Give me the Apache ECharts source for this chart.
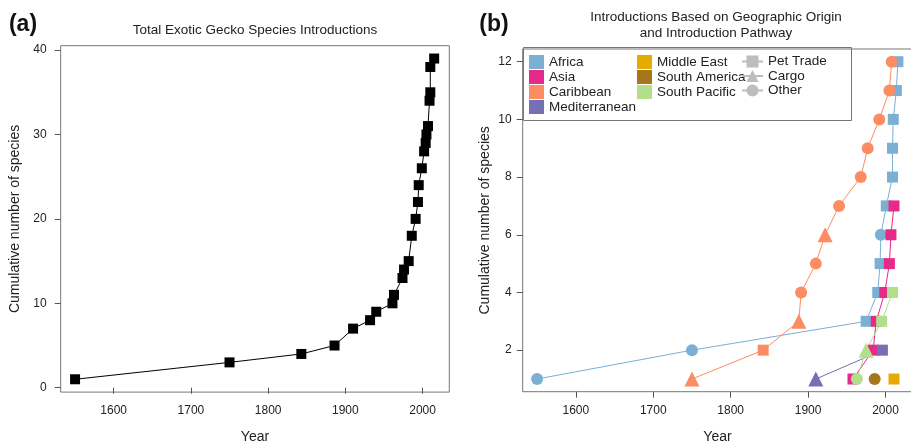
<!DOCTYPE html>
<html>
<head>
<meta charset="utf-8">
<script src="https://cdn.jsdelivr.net/npm/echarts@6/dist/echarts.min.js"></script>
<style>
  html, body { margin: 0; padding: 0; background: #fff; }
  #chart { width: 911px; height: 444px; }
</style>
</head>
<body>
<div id="chart"></div>
<script>
// panel (a): cumulative total
const totalYears  = [1550, 1750, 1843, 1886, 1910, 1932, 1940, 1961, 1963, 1974, 1976, 1982, 1986, 1991, 1994, 1995, 1999, 2002, 2004, 2005, 2007, 2009, 2010, 2010, 2015];
const totalCounts = [1, 3, 4, 5, 7, 8, 9, 10, 11, 13, 14, 15, 18, 20, 22, 24, 26, 28, 29, 30, 31, 34, 35, 38, 39];

// panel (b): per origin, pathway P = pet trade, C = cargo, O = other
const africaYears  = [1550, 1750, 1975, 1990, 1993, 1994, 2001, 2009, 2009, 2010, 2014, 2016];
const africaCounts = [1, 2, 3, 4, 5, 6, 7, 8, 9, 10, 11, 12];
const africaPath   = ['O', 'O', 'P', 'P', 'P', 'O', 'P', 'P', 'P', 'P', 'P', 'P'];

const asiaYears  = [1958, 1984, 1988, 1999, 2005, 2007, 2011];
const asiaCounts = [1, 2, 3, 4, 5, 6, 7];
const asiaPath   = ['P', 'P', 'P', 'P', 'P', 'P', 'P'];

const caribYears  = [1750, 1842, 1888, 1891, 1910, 1922, 1940, 1968, 1977, 1992, 2005, 2008];
const caribCounts = [1, 2, 3, 4, 5, 6, 7, 8, 9, 10, 11, 12];
const caribPath   = ['C', 'P', 'C', 'O', 'O', 'C', 'O', 'O', 'O', 'O', 'O', 'O'];

const medYears  = [1910, 1996];
const medCounts = [1, 2];
const medPath   = ['C', 'P'];

const meYears  = [2011];
const meCounts = [1];
const mePath   = ['P'];

const saYears  = [1986];
const saCounts = [1];
const saPath   = ['O'];

const spYears  = [1963, 1975, 1995, 2009];
const spCounts = [1, 2, 3, 4];
const spPath   = ['O', 'C', 'P', 'P'];

const yearTicks = [1600, 1700, 1800, 1900, 2000];
const totalTicks = [0, 10, 20, 30, 40];
const originTicks = [2, 4, 6, 8, 10, 12];

const FONT = 'Liberation Sans, Arial, Helvetica, sans-serif';

const symbolOf = { P: 'rect', C: 'triangle', O: 'circle' };
const sizeOf = { P: 11, C: 15, O: 12 };

function originData(years, counts, path) {
  return years.map((y, i) => ({
    value: [y, counts[i]],
    symbol: symbolOf[path[i]],
    symbolSize: sizeOf[path[i]]
  }));
}

function originSeries(name, color, years, counts, path) {
  return {
    name: name,
    type: 'line',
    xAxisIndex: 1,
    yAxisIndex: 1,
    data: originData(years, counts, path),
    color: color,
    lineStyle: { width: 1, color: color },
    itemStyle: { color: color },
    emphasis: { disabled: true }
  };
}

function pathSeries(name, symbol) {
  return {
    name: name,
    type: 'line',
    xAxisIndex: 1,
    yAxisIndex: 1,
    data: [],
    symbol: symbol,
    symbolSize: 12,
    color: '#bdbdbd',
    lineStyle: { width: 1, color: '#bdbdbd' },
    itemStyle: { color: '#bdbdbd' }
  };
}

function xAxisCfg(idx) {
  return {
    type: 'value', gridIndex: idx, min: 1531.4, max: 2034.6,
    name: 'Year', nameLocation: 'middle', nameGap: 38,
    nameTextStyle: { fontFamily: FONT, fontSize: 14, color: '#222' },
    splitLine: { show: false },
    axisLine: { show: false },
    axisTick: { show: true, length: 6, lineStyle: { color: '#555' }, customValues: yearTicks },
    axisLabel: { margin: 13, fontFamily: FONT, fontSize: 12, color: '#222', customValues: yearTicks,
      formatter: v => String(v) }
  };
}

function yAxisCfg(idx, min, max, ticks, gap, margin) {
  return {
    type: 'value', gridIndex: idx, min: min, max: max,
    name: 'Cumulative number of species', nameLocation: 'middle', nameGap: gap,
    nameTextStyle: { fontFamily: FONT, fontSize: 14, color: '#222' },
    splitLine: { show: false },
    axisLine: { show: false },
    axisTick: { show: true, length: 6, lineStyle: { color: '#555' }, customValues: ticks },
    axisLabel: { margin: margin, fontFamily: FONT, fontSize: 12, color: '#222', customValues: ticks,
      formatter: v => String(v) }
  };
}

const legendText = { fontFamily: FONT, fontSize: 13.5, color: '#222' };

function pathLegend(name, top) {
  return {
    left: 741, top: top, padding: 0, itemWidth: 21, itemHeight: 15,
    itemStyle: { borderWidth: 0 },
    textStyle: legendText,
    data: [name],
    selectedMode: false
  };
}

const chart = echarts.init(document.getElementById('chart'), null, { renderer: 'canvas' });

chart.setOption({
  animation: false,
  backgroundColor: '#fff',
  grid: [
    { left: 60.7, top: 45.7, width: 388.6, height: 346.4, show: true, borderColor: '#777', borderWidth: 1,
      outerBoundsMode: 'none', containLabel: false },
    { left: 522.7, top: 49, width: 389.6, height: 342.7, show: true, borderColor: '#777', borderWidth: 1,
      outerBoundsMode: 'none', containLabel: false }
  ],
  xAxis: [xAxisCfg(0), xAxisCfg(1)],
  yAxis: [
    yAxisCfg(0, -0.52, 40.52, totalTicks, 39, 14),
    yAxisCfg(1, 0.56, 12.44, originTicks, 31, 11)
  ],
  legend: [
    {
      left: 529, top: 55, padding: 0, orient: 'vertical', itemGap: 1, itemWidth: 15, itemHeight: 14,
      textStyle: legendText,
      data: [
        { name: 'Africa', icon: 'rect' }, { name: 'Asia', icon: 'rect' },
        { name: 'Caribbean', icon: 'rect' }, { name: 'Mediterranean', icon: 'rect' }
      ],
      selectedMode: false
    },
    {
      left: 637, top: 55, padding: 0, orient: 'vertical', itemGap: 1, itemWidth: 15, itemHeight: 14,
      textStyle: legendText,
      data: [
        { name: 'Middle East', icon: 'rect' }, { name: 'South America', icon: 'rect' },
        { name: 'South Pacific', icon: 'rect' }
      ],
      selectedMode: false
    },
    pathLegend('Pet Trade', 54.5),
    pathLegend('Cargo', 69),
    pathLegend('Other', 83.5)
  ],
  graphic: [
    { type: 'rect', shape: { x: 523.5, y: 47.5, width: 328, height: 73 },
      style: { fill: '#fff', stroke: '#777', lineWidth: 1 }, z: -1, silent: true },
    { type: 'text', x: 23, y: 25, style: { text: '(a)', font: 'bold 23px ' + FONT, fill: '#111', align: 'center', verticalAlign: 'middle' } },
    { type: 'text', x: 494, y: 25, style: { text: '(b)', font: 'bold 23px ' + FONT, fill: '#111', align: 'center', verticalAlign: 'middle' } },
    { type: 'text', x: 255, y: 30, style: { text: 'Total Exotic Gecko Species Introductions', font: '13.5px ' + FONT, fill: '#222', align: 'center', verticalAlign: 'middle' } },
    { type: 'text', x: 716, y: 17, style: { text: 'Introductions Based on Geographic Origin', font: '13.5px ' + FONT, fill: '#222', align: 'center', verticalAlign: 'middle' } },
    { type: 'text', x: 716, y: 33, style: { text: 'and Introduction Pathway', font: '13.5px ' + FONT, fill: '#222', align: 'center', verticalAlign: 'middle' } }
  ],
  series: [
    {
      name: 'Total',
      type: 'line',
      xAxisIndex: 0,
      yAxisIndex: 0,
      data: totalYears.map((y, i) => [y, totalCounts[i]]),
      symbol: 'rect',
      symbolSize: 10,
      lineStyle: { width: 1, color: '#000' },
      itemStyle: { color: '#000' }
    },
    originSeries('Africa', '#7bafd4', africaYears, africaCounts, africaPath),
    originSeries('Asia', '#e7298a', asiaYears, asiaCounts, asiaPath),
    originSeries('Caribbean', '#fc8d62', caribYears, caribCounts, caribPath),
    originSeries('Mediterranean', '#7570b3', medYears, medCounts, medPath),
    originSeries('Middle East', '#e6ab02', meYears, meCounts, mePath),
    originSeries('South America', '#a6761d', saYears, saCounts, saPath),
    originSeries('South Pacific', '#b2df8a', spYears, spCounts, spPath),
    pathSeries('Pet Trade', 'rect'),
    pathSeries('Cargo', 'triangle'),
    pathSeries('Other', 'circle')
  ]
});
</script>
</body>
</html>
